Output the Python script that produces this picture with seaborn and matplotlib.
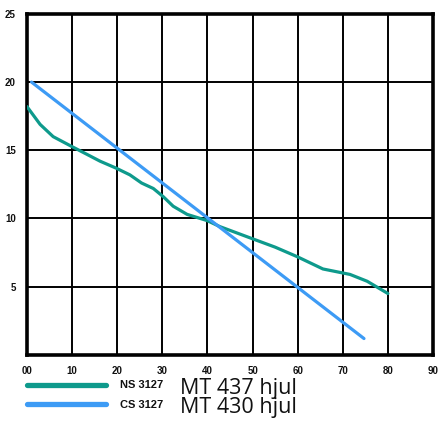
"""Flow curves for two pump wheels."""

import matplotlib.pyplot as plt
import seaborn as sns
import pandas as pd
from matplotlib.lines import Line2D

# Data
ns_x = [0, 2.9, 5.8, 9.8, 13.3, 16.2, 19.7, 22.8, 25.4, 28.0, 30.2, 32.4,
        35.5, 39.9, 42.8, 50.1, 55.0, 59.9, 65.6, 71.6, 75.4, 80.0]
ns_y = [18.2, 16.9, 16.0, 15.3, 14.7, 14.2, 13.7, 13.2, 12.6, 12.2, 11.6, 10.9,
        10.3, 9.85, 9.4, 8.5, 7.9, 7.2, 6.3, 5.9, 5.4, 4.5]
cs_x = [1.0, 74.7]
cs_y = [20.0, 1.2]

x_ticks = [0, 10, 20, 30, 40, 50, 60, 70, 80, 90]
x_labels = ["00", "10", "20", "30", "40", "50", "60", "70", "80", "90"]
y_ticks = [5, 10, 15, 20, 25]

ns_label = ("NS 3127", "MT 437 hjul")
cs_label = ("CS 3127", "MT 430 hjul")
ns_color = "#0E9A8C"
cs_color = "#3D9BF5"

sns.set_style("white")
plt.rcParams["font.family"] = ["Liberation Sans Narrow", "Liberation Sans", "DejaVu Sans"]
plt.rcParams["text.color"] = "#111111"
plt.rcParams["xtick.color"] = "#111111"
plt.rcParams["ytick.color"] = "#111111"

df = pd.concat([
    pd.DataFrame({"x": ns_x, "y": ns_y, "serie": ns_label[0]}),
    pd.DataFrame({"x": cs_x, "y": cs_y, "serie": cs_label[0]}),
])

fig = plt.figure(figsize=(4.4, 4.21), dpi=100)
ax = fig.add_axes([0.0614, 0.157, 0.9227, 0.81])

sns.lineplot(data=df, x="x", y="y", hue="serie", sort=False, estimator=None,
             palette={ns_label[0]: ns_color, cs_label[0]: cs_color},
             linewidth=2.3, legend=False, ax=ax, zorder=3)

ax.set_xlim(0, 90)
ax.set_ylim(0, 25)
ax.set_xticks(x_ticks)
ax.set_xticklabels(x_labels)
ax.set_yticks(y_ticks)
ax.set_xlabel("")
ax.set_ylabel("")
ax.grid(True, color="black", linewidth=1.4)
ax.tick_params(length=0, labelsize=7, pad=8)
for lab in ax.get_xticklabels() + ax.get_yticklabels():
    lab.set_fontweight("bold")
for sp in ax.spines.values():
    sp.set_color("black")
    sp.set_linewidth(2.6)

# Legend below the plot
fig.add_artist(Line2D([0.061, 0.241], [0.086, 0.086], color=ns_color,
                      linewidth=3.8, transform=fig.transFigure))
fig.add_artist(Line2D([0.061, 0.241], [0.040, 0.040], color=cs_color,
                      linewidth=3.8, transform=fig.transFigure))
fig.text(0.273, 0.079, ns_label[0], fontsize=8, fontweight="bold", va="baseline")
fig.text(0.273, 0.031, cs_label[0], fontsize=8, fontweight="bold", va="baseline")
fig.text(0.410, 0.019, ns_label[1] + "\n" + cs_label[1], fontsize=15.5,
         family="Open Sans", va="baseline", linespacing=0.9)

fig.savefig("out.png", dpi=100)
